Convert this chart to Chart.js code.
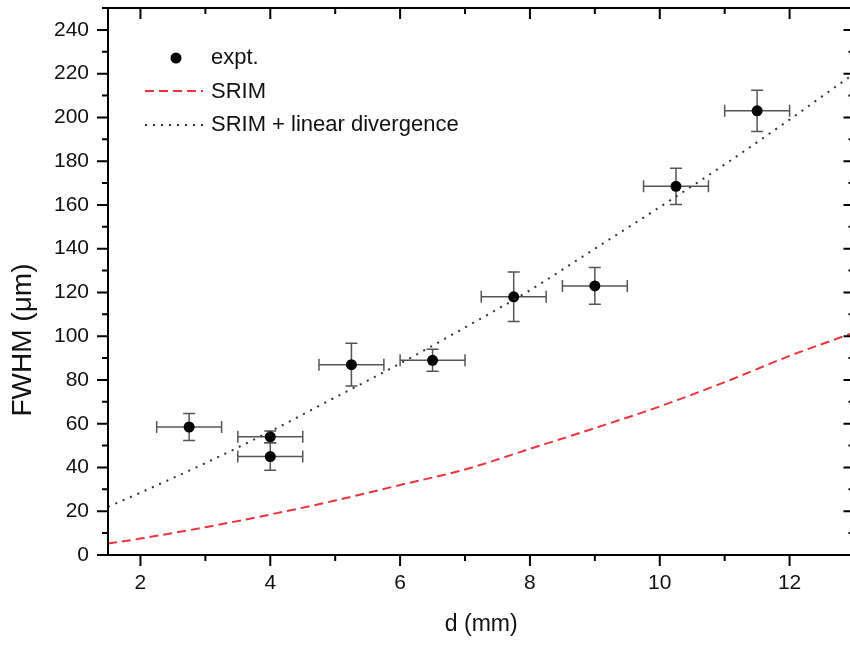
<!DOCTYPE html>
<html><head><meta charset="utf-8">
<script src="https://cdn.jsdelivr.net/npm/chart.js@4/dist/chart.umd.min.js"></script>
<style>html,body{margin:0;padding:0;background:#fff;overflow:hidden}</style>
</head><body>
<canvas id="c" width="860" height="646" style="display:block;width:860px;height:646px"></canvas>
<script>
// experimental points
const exptD = [2.75, 4, 4, 5.25, 6.5, 7.75, 9, 10.25, 11.5];
const exptFWHM = [58.5, 54, 45, 87, 89, 118, 123, 168.5, 203];
const exptDErr = [0.5, 0.5, 0.5, 0.5, 0.5, 0.5, 0.5, 0.5, 0.5];
const exptFWHMErr = [6.2, 2.7, 6.3, 9.8, 5, 11.3, 8.4, 8.3, 9.4];
// curves
const curveD = [1.5, 2, 3, 4, 5, 6, 7, 8, 9, 10, 11, 12, 12.9, 13];
const srimFWHM = [5.2, 7.5, 12.7, 18.5, 24.9, 32, 39.1, 48.5, 58, 67.9, 79, 91, 100.7, 101.8];
const srimDivFWHM = [22, 28.5, 42, 56.5, 72, 87.5, 104, 121, 140, 159, 178.5, 199, 218, 220];
// axes
const xMajor = [2, 4, 6, 8, 10, 12];
const xMinor = [3, 5, 7, 9, 11];
const yMajor = [0, 20, 40, 60, 80, 100, 120, 140, 160, 180, 200, 220, 240];
const yMinor = [10, 30, 50, 70, 90, 110, 130, 150, 170, 190, 210, 230, 250];
const legendLabels = ['expt.', 'SRIM', 'SRIM + linear divergence'];

const FONT = "'Liberation Sans', Arial, sans-serif";

const errorBars = {
  id: 'errorBars',
  beforeDatasetsDraw(chart) {
    const {ctx, scales: {x, y}} = chart;
    ctx.save();
    ctx.strokeStyle = '#555';
    ctx.lineWidth = 1.5;
    const cap = 6;
    exptD.forEach((d, i) => {
      const px = x.getPixelForValue(d), py = y.getPixelForValue(exptFWHM[i]);
      const xl = x.getPixelForValue(d - exptDErr[i]), xr = x.getPixelForValue(d + exptDErr[i]);
      const yt = y.getPixelForValue(exptFWHM[i] + exptFWHMErr[i]), yb = y.getPixelForValue(exptFWHM[i] - exptFWHMErr[i]);
      ctx.beginPath();
      ctx.moveTo(xl, py); ctx.lineTo(xr, py);
      ctx.moveTo(xl, py - cap); ctx.lineTo(xl, py + cap);
      ctx.moveTo(xr, py - cap); ctx.lineTo(xr, py + cap);
      ctx.moveTo(px, yt); ctx.lineTo(px, yb);
      ctx.moveTo(px - cap, yt); ctx.lineTo(px + cap, yt);
      ctx.moveTo(px - cap, yb); ctx.lineTo(px + cap, yb);
      ctx.stroke();
    });
    ctx.restore();
  }
};

const frame = {
  id: 'frame',
  afterDraw(chart) {
    const {ctx, chartArea: a, scales: {x, y}} = chart;
    ctx.save();
    ctx.strokeStyle = '#000';
    ctx.lineWidth = 2;
    ctx.strokeRect(a.left, a.top, a.right - a.left, a.bottom - a.top);
    ctx.beginPath();
    const M = 11, m = 6;
    xMajor.forEach(v => { const p = x.getPixelForValue(v);
      ctx.moveTo(p, a.bottom); ctx.lineTo(p, a.bottom + M);
      ctx.moveTo(p, a.top); ctx.lineTo(p, a.top + M); });
    xMinor.forEach(v => { const p = x.getPixelForValue(v);
      ctx.moveTo(p, a.bottom); ctx.lineTo(p, a.bottom + m);
      ctx.moveTo(p, a.top); ctx.lineTo(p, a.top + m); });
    yMajor.forEach(v => { const p = y.getPixelForValue(v);
      ctx.moveTo(a.left, p); ctx.lineTo(a.left - M, p);
      ctx.moveTo(a.right, p); ctx.lineTo(a.right - M, p); });
    yMinor.forEach(v => { const p = y.getPixelForValue(v);
      ctx.moveTo(a.left, p); ctx.lineTo(a.left - m, p);
      ctx.moveTo(a.right, p); ctx.lineTo(a.right - m, p); });
    ctx.stroke();

    // legend
    ctx.fillStyle = '#000';
    ctx.beginPath(); ctx.arc(176, 58, 5.5, 0, Math.PI * 2); ctx.fill();
    ctx.lineWidth = 2;
    ctx.strokeStyle = '#ee3340';
    ctx.setLineDash([9, 5]);
    ctx.beginPath(); ctx.moveTo(145, 91); ctx.lineTo(203, 91); ctx.stroke();
    ctx.strokeStyle = '#333';
    ctx.setLineDash([2, 6]);
    ctx.beginPath(); ctx.moveTo(145, 125); ctx.lineTo(205, 125); ctx.stroke();
    ctx.setLineDash([]);
    ctx.font = '22px ' + FONT;
    ctx.textBaseline = 'middle';
    ctx.textAlign = 'left';
    ctx.fillStyle = '#111';
    ctx.fillText(legendLabels[0], 211, 58);
    ctx.fillText(legendLabels[1], 211, 92);
    ctx.fillText(legendLabels[2], 211, 125);

    // y axis title
    ctx.save();
    ctx.translate(23, 340);
    ctx.rotate(-Math.PI / 2);
    ctx.textAlign = 'center';
    ctx.font = '28px ' + FONT;
    ctx.fillText('FWHM (\u03bcm)', 0, 0);
    ctx.restore();
    ctx.restore();
  }
};

new Chart(document.getElementById('c'), {
  type: 'scatter',
  data: {
    datasets: [
      {
        label: legendLabels[1],
        data: curveD.map((d, i) => ({x: d, y: srimFWHM[i]})),
        showLine: true, pointRadius: 0, borderColor: '#ee3340', borderWidth: 2,
        borderDash: [9, 5], cubicInterpolationMode: 'monotone'
      },
      {
        label: legendLabels[2],
        data: curveD.map((d, i) => ({x: d, y: srimDivFWHM[i]})),
        showLine: true, pointRadius: 0, borderColor: '#333', borderWidth: 2,
        borderDash: [2, 6], cubicInterpolationMode: 'monotone'
      },
      {
        label: legendLabels[0],
        data: exptD.map((d, i) => ({x: d, y: exptFWHM[i]})),
        pointRadius: 5.5, pointBackgroundColor: '#000', pointBorderColor: '#000', pointBorderWidth: 0
      }
    ]
  },
  options: {
    responsive: false,
    animation: false,
    devicePixelRatio: 1,
    layout: {padding: {top: 8, right: 0, left: 0, bottom: 0}},
    plugins: {legend: {display: false}, tooltip: {enabled: false}},
    scales: {
      x: {
        type: 'linear', min: 1.5, max: 13,
        afterFit(s) { s.height = 91; s.paddingLeft = 0; s.paddingRight = 0; },
        grid: {display: false, drawTicks: true, tickLength: 11},
        border: {display: false},
        ticks: {stepSize: 2, includeBounds: false, padding: 5, color: '#111', font: {family: FONT, size: 21}},
        title: {display: true, text: 'd (mm)', color: '#111', font: {family: FONT, size: 23}, padding: {top: 0, bottom: 8}}
      },
      y: {
        type: 'linear', min: 0, max: 250,
        afterFit(s) { s.width = 108; s.paddingTop = 0; s.paddingBottom = 0; },
        grid: {display: false, drawTicks: true, tickLength: 11},
        border: {display: false},
        ticks: {stepSize: 20, includeBounds: false, padding: 8, color: '#111', font: {family: FONT, size: 21}}
      }
    }
  },
  plugins: [errorBars, frame]
});
</script>
</body></html>
